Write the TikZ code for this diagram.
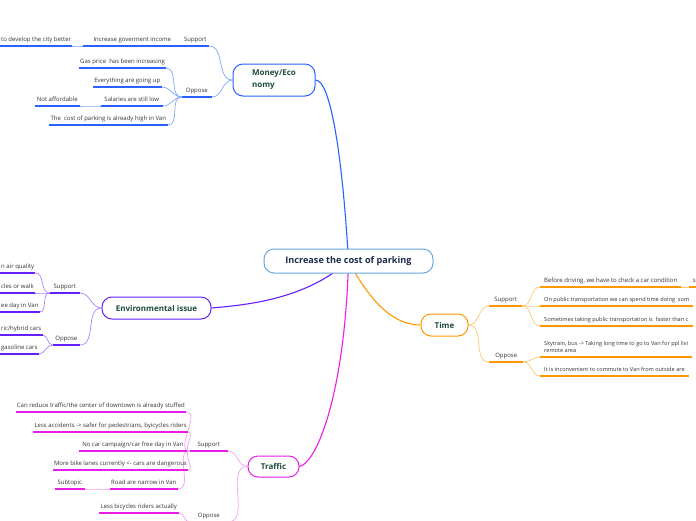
\documentclass[tikz,border=0pt]{standalone}
\usepackage{fontspec}
\setmainfont{Open Sans}
\usetikzlibrary{backgrounds}
\definecolor{cblue}{HTML}{2962FF}
\definecolor{lblue}{HTML}{7FA6FF}
\definecolor{cpurp}{HTML}{651FFF}
\definecolor{lpurp}{HTML}{A785FF}
\definecolor{cmag}{HTML}{E91EE9}
\definecolor{lmag}{HTML}{F3A0F3}
\definecolor{corg}{HTML}{FF9800}
\definecolor{lorg}{HTML}{FFC670}
\definecolor{ccent}{HTML}{6AA8DC}
\definecolor{ntext}{HTML}{1D4A3C}
\definecolor{ctext}{HTML}{1C2B4A}
\definecolor{txt}{HTML}{333333}
\begin{document}
\begin{tikzpicture}[x=1pt,y=-1pt,
  tp/.style={font=\fontsize{6}{7}\selectfont, text=txt, inner xsep=1pt, inner ysep=2.3pt, text height=4.4pt, text depth=1.6pt},
  lt/.style={tp, anchor=south east},
  lw/.style={tp, anchor=south west},
  rt/.style={tp, anchor=south west},
  rw/.style={tp, anchor=south west, inner xsep=4pt, align=left},
  nar/.style={font=\fontsize{5.6}{7}\selectfont},
  mn/.style={draw, rounded corners=10pt, line width=1pt, fill=white, text=ntext, inner sep=0pt,
    font=\bfseries\fontsize{8}{12}\selectfont},
  ul/.style={line width=1.6pt},
  mainc/.style={line width=1.1pt},
  subc/.style={line width=0.7pt},
]
\useasboundingbox (0,0) rectangle (696,520);

% main nodes
\node[mn, draw=ccent, text=ctext, minimum width=169, minimum height=24, font=\bfseries\fontsize{9.1}{11}\selectfont] (c) at (348.5,261) {Increase the cost of parking};
\node[mn, draw=cblue, minimum width=82, minimum height=32, align=left] (money) at (274,80) {Money/Eco\\nomy};
\node[mn, draw=cpurp, minimum width=109, minimum height=22] (env) at (156.5,308) {Environmental issue};
\node[mn, draw=cmag, minimum width=51, minimum height=21] (traffic) at (273.5,466.5) {Traffic};
\node[mn, draw=corg, minimum width=47, minimum height=22] (time) at (444.5,325) {Time};

% Money topics
\node[lt, minimum width=27] (mS) at (209,46) {Support};
\node[lt, minimum width=30] (mO) at (212,97) {Oppose};
\node[lt, minimum width=99] (mS1) at (182,46) {Increase goverment income};
\node[lw] (mS1a) at (0,46) {to develop the city better};
\node[lt, minimum width=85] (mO1) at (166,68) {Gas price\ \ has been increasing};
\node[lt, minimum width=69] (mO2) at (162,87) {Everything are going up};
\node[lt, minimum width=62] (mO3) at (163,106) {Salaries are still low};
\node[lt, minimum width=45] (mO3a) at (80,106) {Not affordable};
\node[lt, minimum width=119] (mO4) at (168,125) {The\ \ cost of parking is already high in Van};

% Environmental topics
\node[lt, minimum width=30] (eS) at (80,293) {Support};
\node[lt, minimum width=27] (eO) at (80,345) {Oppose};
\node[lw] (eS1) at (0,273) {n air quality};
\node[lw] (eS2) at (0,293) {cles or walk};
\node[lw] (eS3) at (0,312) {ee day in Van};
\node[lw] (eO1) at (0,335) {ric/hybrid cars};
\node[lw] (eO2) at (0,354) {gasoline cars};

% Traffic topics
\node[lt, minimum width=38] (tS) at (228,451) {Support};
\node[lt, minimum width=38] (tO) at (228,522) {Oppose};
\node[lt, minimum width=158] (tS1) at (186,412) {Can reduce traffic/the center of downtown is already stuffed};
\node[lt, minimum width=150] (tS2) at (188,432) {Less accidents -> safer for pedestrians, byicycles riders};
\node[lt, minimum width=108] (tS3) at (187,451) {No car campaign/car free day in Van};
\node[lt, minimum width=132] (tS4) at (188,470) {More bike lanes currently <- cars are dangerous};
\node[lt, minimum width=68] (tS5) at (178,489) {Road are narrow in Van};
\node[lt, minimum width=30] (tS5a) at (85,489) {Subtopic};
\node[lt, minimum width=80] (tO1) at (179,513) {Less bicycles riders actually};

% Time topics
\node[rt, minimum width=33] (tiS) at (489,306) {Support};
\node[rt, minimum width=34] (tiO) at (489,362) {Oppose};
\node[rw] (tiS1) at (540,287) {Before driving, we have to check a car condition};
\node[rt, minimum width=10] (tiS1a) at (689,287) {s};
\node[rw, nar] (tiS2) at (540,306) {On public transportation we can spend time doing\ \ som};
\node[rw, nar] (tiS3) at (540,326) {Sometimes taking public transportation is\ \ faster than c};
\node[rw, nar] (tiO1) at (540,357) {Skytrain, bus -> Taking long time to go to Van for ppl livi\\remote area};
\node[rw, nar] (tiO2) at (540,376) {It is inconvenient to commute to Van from outside are};

% underlines
\foreach \n in {mS,mO,mS1,mS1a,mO1,mO2,mO3,mO3a,mO4}
  \draw[ul, cblue] (\n.south west) -- (\n.south east);
\foreach \n in {eS,eO,eS1,eS2,eS3,eO1,eO2}
  \draw[ul, cpurp] (\n.south west) -- (\n.south east);
\foreach \n in {tS,tO,tS1,tS2,tS3,tS4,tS5,tS5a,tO1}
  \draw[ul, cmag] (\n.south west) -- (\n.south east);
\foreach \n in {tiS,tiO,tiS1,tiS1a,tiS2,tiS3,tiO1,tiO2}
  \draw[ul, corg] (\n.south west) -- (\n.south east);

\begin{scope}[on background layer]
  % main branches
  \draw[mainc, cblue] (c.center) .. controls (342,150) and (330,80) .. (money.east);
  \draw[mainc, cpurp] (c.center) .. controls (305,300) and (245,305) .. (env.east);
  \draw[mainc, cmag] (c.center) .. controls (345,390) and (318,462) .. (traffic.east);
  \draw[mainc, corg] (c.center) .. controls (372,305) and (395,325) .. (time.west);
  % money
  \foreach \n in {mS,mO} \draw[subc, lblue] (money.west) to[out=180,in=0] (\n.south east);
  \draw[subc, lblue] (mS.south west) to[out=180,in=0] (mS1.south east);
  \draw[subc, lblue] (mS1.south west) to[out=180,in=0] (mS1a.south east);
  \foreach \n in {mO1,mO2,mO3,mO4} \draw[subc, lblue] (mO.south west) to[out=180,in=0] (\n.south east);
  \draw[subc, lblue] (mO3.south west) to[out=180,in=0] (mO3a.south east);
  % environment
  \foreach \n in {eS,eO} \draw[subc, lpurp] (env.west) to[out=180,in=0] (\n.south east);
  \foreach \n in {eS1,eS2,eS3} \draw[subc, lpurp] (eS.south west) to[out=180,in=0] (\n.south east);
  \foreach \n in {eO1,eO2} \draw[subc, lpurp] (eO.south west) to[out=180,in=0] (\n.south east);
  % traffic
  \foreach \n in {tS,tO} \draw[subc, lmag] (traffic.west) to[out=180,in=0] (\n.south east);
  \foreach \n in {tS1,tS2,tS3,tS4,tS5} \draw[subc, lmag] (tS.south west) to[out=180,in=0] (\n.south east);
  \draw[subc, lmag] (tS5.south west) to[out=180,in=0] (tS5a.south east);
  \draw[subc, lmag] (tO.south west) to[out=180,in=0] (tO1.south east);
  % time
  \foreach \n in {tiS,tiO} \draw[subc, lorg] (time.east) to[out=0,in=180] (\n.south west);
  \foreach \n in {tiS1,tiS2,tiS3} \draw[subc, lorg] (tiS.south east) to[out=0,in=180] (\n.south west);
  \draw[subc, lorg] (tiS1.south east) to[out=0,in=180] (tiS1a.south west);
  \foreach \n in {tiO1,tiO2} \draw[subc, lorg] (tiO.south east) to[out=0,in=180] (\n.south west);
\end{scope}
\end{tikzpicture}
\end{document}
